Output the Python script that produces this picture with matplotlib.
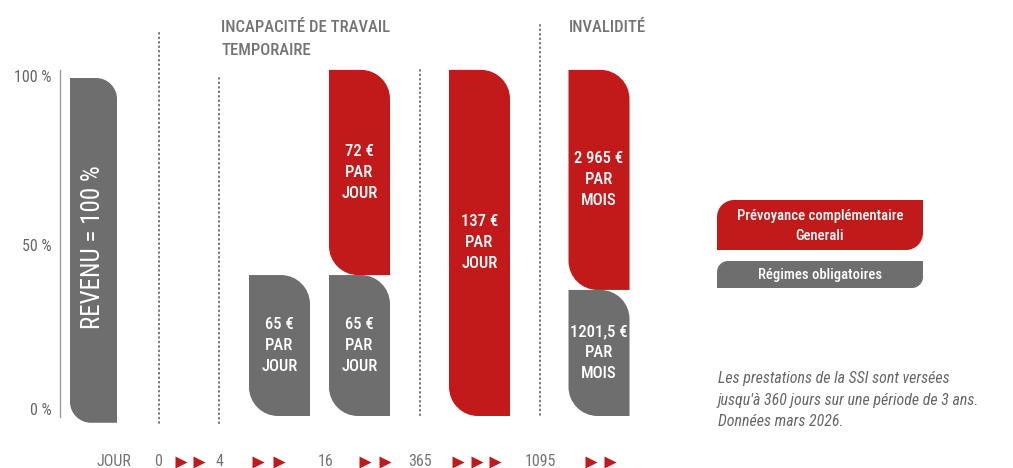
import numpy as np
import matplotlib
matplotlib.use("Agg")
import matplotlib.pyplot as plt
from matplotlib.path import Path
from matplotlib.patches import PathPatch

plt.rcParams['font.family'] = ['Roboto Condensed', 'DejaVu Sans']

RED = "#c21a1a"
GREY = "#6e6e6e"
TXT = "#747474"

# data
gray_vals = [41.7, 41.7, 0.0, 37.3]
red_vals = [0.0, 60.7, 102.4, 65.1]
gray_labels = ["65 €\nPAR\nJOUR", "65 €\nPAR\nJOUR", "", "1201,5 €\nPAR\nMOIS"]
red_labels = ["", "72 €\nPAR\nJOUR", "137 €\nPAR\nJOUR", "2 965 €\nPAR\nMOIS"]
days = ["0", "4", "16", "365", "1095"]
yticks = [100, 50, 0]
legend_labels = ["Prévoyance complémentaire\nGenerali", "Régimes obligatoires"]

# layout (pixel x positions)
bar_x = [279.5, 359.5, 479.5, 599.0]
bar_w = 61
day_x = [158, 219, 326, 420, 540]
arrow_x = [[181, 199], [258, 279], [365, 385], [458, 477, 495], [591, 610]]
PX = 3.38          # pixels per percent
Y0 = 416           # pixel row of 0 %

K = 0.5523


def rounded(x0, y0, w, h, rx, ry, corners):
    x1, y1 = x0 + w, y0 + h
    v = [(x0 + (rx if 'bl' in corners else 0), y0)]
    c = [Path.MOVETO]
    v.append((x1 - (rx if 'br' in corners else 0), y0)); c.append(Path.LINETO)
    if 'br' in corners:
        v += [(x1 - rx + K * rx, y0), (x1, y0 + ry - K * ry), (x1, y0 + ry)]
        c += [Path.CURVE4] * 3
    v.append((x1, y1 - (ry if 'tr' in corners else 0))); c.append(Path.LINETO)
    if 'tr' in corners:
        v += [(x1, y1 - ry + K * ry), (x1 - rx + K * rx, y1), (x1 - rx, y1)]
        c += [Path.CURVE4] * 3
    v.append((x0 + (rx if 'tl' in corners else 0), y1)); c.append(Path.LINETO)
    if 'tl' in corners:
        v += [(x0 + rx - K * rx, y1), (x0, y1 - ry + K * ry), (x0, y1 - ry)]
        c += [Path.CURVE4] * 3
    v.append((x0, y0 + (ry if 'bl' in corners else 0))); c.append(Path.LINETO)
    if 'bl' in corners:
        v += [(x0, y0 + ry - K * ry), (x0 + rx - K * rx, y0), (x0 + rx, y0)]
        c += [Path.CURVE4] * 3
    v.append(v[0]); c.append(Path.CLOSEPOLY)
    return Path(v, c)


fig = plt.figure(figsize=(10.13, 4.68), dpi=100)
ax = fig.add_axes([0, 0, 1, 1])
ax.set_xlim(0, 1013)
ax.set_ylim((Y0 - 468) / PX, Y0 / PX)
ax.axis('off')

# overlay in pixel coords for annotations
ov = fig.add_axes([0, 0, 1, 1])
ov.set_xlim(0, 1013)
ov.set_ylim(468, 0)
ov.axis('off')
ov.patch.set_alpha(0)

# y axis
ax.plot([60, 60], [-0.3, 102.4], color="#9a9a9a", lw=1)
for t, ty in zip(yticks, [100, 50, 1.5]):
    ax.text(52, ty, f"{t} %", ha='right', va='center', fontsize=11.5, color="#666666")

# revenu bar
r = 21
ax.add_patch(PathPatch(rounded(70, -2, 47, 102, r, r / PX, {'tr', 'bl'}),
                       fc=GREY, ec='none'))
ax.text(93.5, 50, "REVENU = 100 %", rotation=90, ha='center', va='center',
        color='white', fontsize=18)

# stacked bars
r = 29
for x, g, rv, gl, rl in zip(bar_x, gray_vals, red_vals, gray_labels, red_labels):
    x0 = x - bar_w / 2
    if g > 0:
        ax.add_patch(PathPatch(rounded(x0, 0, bar_w, g, r, r / PX, {'tr', 'bl'}),
                               fc=GREY, ec='none'))
        ax.text(x, g / 2, gl, ha='center', va='center', color='white',
                fontsize=12, fontweight='medium', linespacing=1.5)
    if rv > 0:
        ax.add_patch(PathPatch(rounded(x0, g, bar_w, rv, r, r / PX, {'tr', 'bl'}),
                               fc=RED, ec='none'))
        ax.text(x, g + rv / 2, rl, ha='center', va='center', color='white',
                fontsize=12, fontweight='medium', linespacing=1.5)

# dotted separators
for x, top, bot in [(159, 33, 424), (219, 78, 424), (420, 70, 417), (540, 25, 417)]:
    ov.plot([x, x], [top, bot], color="#707070", lw=1.4, ls=(0, (0.4, 1.9)),
            dash_capstyle='round')

# headers
ov.text(221, 39, "INCAPACITÉ DE TRAVAIL\nTEMPORAIRE", ha='left', va='center',
        fontsize=12, fontweight='medium', color=TXT, linespacing=1.6)
ov.text(569, 27, "INVALIDITÉ", ha='left', va='center', fontsize=12,
        fontweight='medium', color=TXT)

# timeline
ov.text(114, 462, "JOUR", ha='center', va='center', fontsize=11.5, color=TXT)
for d, x, ax_list in zip(days, day_x, arrow_x):
    ov.text(x, 462, d, ha='center', va='center', fontsize=11.5, color=TXT)
    ov.plot(ax_list, [462] * len(ax_list), ls='none', marker='>', ms=9,
            color=RED, mec='none')

# legend
ov.add_patch(PathPatch(rounded(717, 200, 206, 50, 17, 17, {'bl', 'tr'}),
                       fc=RED, ec='none'))
ov.text(820, 226, legend_labels[0], ha='center', va='center', color='white',
        fontsize=10.5, fontweight='medium', linespacing=1.5)
ov.add_patch(PathPatch(rounded(717, 261, 206, 27, 11, 11, {'bl', 'tr'}),
                       fc=GREY, ec='none'))
ov.text(820, 274.5, legend_labels[1], ha='center', va='center', color='white',
        fontsize=10.5, fontweight='medium')

# note
ov.text(718, 400, "Les prestations de la SSI sont versées\n"
        "jusqu'à 360 jours sur une période de 3 ans.\nDonnées mars 2026.",
        ha='left', va='center', fontsize=11.4, color="#666666", style='italic',
        linespacing=1.5)

fig.savefig("out.png", dpi=100)
